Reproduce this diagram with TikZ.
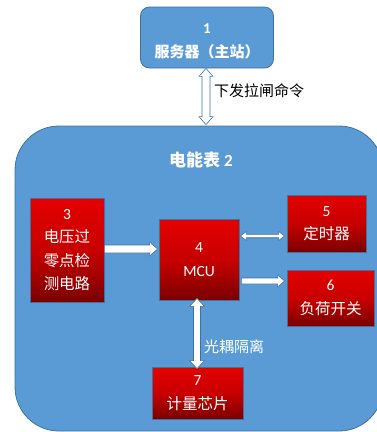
\documentclass[tikz,border=0pt]{standalone}
\usepackage{fontspec}
\newfontfamily\cjk{Noto Sans CJK SC}
\newfontfamily\lat{Carlito}
\usetikzlibrary{calc}
\definecolor{bfill}{RGB}{91,155,213}
\definecolor{bline}{RGB}{65,113,156}
\definecolor{rtop}{RGB}{228,0,0}
\definecolor{rmid}{RGB}{200,0,0}
\definecolor{rbot}{RGB}{122,0,0}
\tikzset{
 bluebox/.style={draw=bline, fill=bfill, line width=0.8pt, text=white, align=center, inner sep=0pt, font=\cjk\fontsize{15}{23.5}\selectfont},
 redbox/.style={draw=bline, line width=0.8pt, top color=rtop, bottom color=rbot, middle color=rmid, text=white, align=center, inner sep=0pt, font=\cjk\fontsize{15.5}{23.5}\selectfont},
 blk/.style={draw=bline, fill=white, line width=0.6pt, line join=miter},
 lbl/.style={anchor=west, inner sep=0pt, font=\cjk\fontsize{15}{18}\selectfont}
}
\newcommand\Rarrow[6]{\draw[blk] let \p1=#1, \p2=#2 in
 (\x1,{-#3pt+#4pt}) -- (\x2-#6pt,{-#3pt+#4pt}) -- (\x2-#6pt,{-#3pt+#5pt}) -- (\x2,{-#3pt}) -- (\x2-#6pt,{-#3pt-#5pt}) -- (\x2-#6pt,{-#3pt-#4pt}) -- (\x1,{-#3pt-#4pt}) -- cycle;}
\newcommand\Harrow[6]{\draw[blk] let \p1=#1, \p2=#2 in
 (\x1,{-#3pt}) -- (\x1+#6pt,{-#3pt+#5pt}) -- (\x1+#6pt,{-#3pt+#4pt}) -- (\x2-#6pt,{-#3pt+#4pt}) -- (\x2-#6pt,{-#3pt+#5pt}) -- (\x2,{-#3pt}) -- (\x2-#6pt,{-#3pt-#5pt}) -- (\x2-#6pt,{-#3pt-#4pt}) -- (\x1+#6pt,{-#3pt-#4pt}) -- (\x1+#6pt,{-#3pt-#5pt}) -- cycle;}
\newcommand\Varrow[6]{\draw[blk] let \p1=#1, \p2=#2 in
 ({#3pt},\y1) -- ({#3pt+#5pt},\y1-#6pt) -- ({#3pt+#4pt},\y1-#6pt) -- ({#3pt+#4pt},\y2+#6pt) -- ({#3pt+#5pt},\y2+#6pt) -- ({#3pt},\y2) -- ({#3pt-#5pt},\y2+#6pt) -- ({#3pt-#4pt},\y2+#6pt) -- ({#3pt-#4pt},\y1-#6pt) -- ({#3pt-#5pt},\y1-#6pt) -- cycle;}
\begin{document}
\begin{tikzpicture}[x=1pt,y=-1pt]
\useasboundingbox (0,0) rectangle (377,432);
\clip (0,0) rectangle (377,432);
\node[bluebox, rounded corners=44pt, minimum width=368pt, minimum height=305pt] (meter) at (199,278.5) {};
\node[text=white, inner sep=0pt, font=\cjk\bfseries\fontsize{17}{20}\selectfont] (title) at (201,160) {电能表 {\lat\bfseries 2}};
\node[bluebox, rounded corners=9pt, minimum width=133pt, minimum height=61pt, font=\cjk\bfseries\fontsize{15}{23.5}\selectfont] (server) at (207,37.5) {\rule{0pt}{18pt}{\lat\bfseries 1}\\服务器（主站）};
\node[redbox, minimum width=74pt, minimum height=104pt] (n3) at (67,250) {{\lat 3}\\电压过\\零点检\\测电路};
\node[redbox, minimum width=80pt, minimum height=81pt] (n4) at (199,259.5) {{\lat 4}\\{\lat MCU}};
\node[redbox, minimum width=79pt, minimum height=57pt] (n5) at (326.5,223.5) {{\lat 5}\\定时器};
\node[redbox, minimum width=87pt, minimum height=56pt] (n6) at (330.5,298) {{\lat 6}\\负荷开关};
\node[redbox, minimum width=91pt, minimum height=52pt] (n7) at (197.5,393) {{\lat 7}\\计量芯片};
\Varrow{(server.south)}{([yshift=1pt]meter.north)}{206}{4}{7}{8}
\Rarrow{(n3.east)}{([xshift=-1pt]n4.west)}{249}{4}{7}{8}
\Harrow{([xshift=1pt]n4.east)}{([xshift=-2pt]n5.west)}{236}{1.7}{4.5}{6}
\Rarrow{([xshift=2pt]n4.east)}{([xshift=-2pt]n6.west)}{281}{3}{6}{7}
\Varrow{([yshift=2pt]n4.south)}{([yshift=-2pt]n7.north)}{197}{3.5}{7.5}{8}
\node[lbl] (cmd) at (214,91) {下发拉闸命令};
\node[lbl, text=white] (iso) at (204,347) {光耦隔离};
\end{tikzpicture}
\end{document}
